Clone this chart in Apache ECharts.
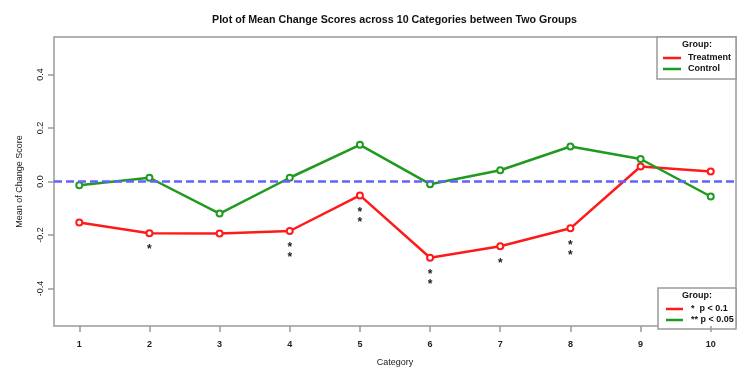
<!DOCTYPE html>
<html>
<head>
<meta charset="utf-8">
<script src="https://cdn.jsdelivr.net/npm/echarts@6/dist/echarts.min.js"></script>
<style>
  html, body { margin: 0; padding: 0; background: #fff; }
  #chart { width: 745px; height: 372px; }
</style>
</head>
<body>
<div id="chart"></div>
<script>
// Category numbers along the x axis
const categories = [1, 2, 3, 4, 5, 6, 7, 8, 9, 10];
// Mean change score per category, by group
const treatment = [-0.153, -0.193, -0.194, -0.185, -0.052, -0.285, -0.242, -0.175, 0.056, 0.037];
const control = [-0.014, 0.014, -0.120, 0.014, 0.137, -0.010, 0.042, 0.131, 0.084, -0.056];
// Significance flags shown under the treatment points
const significance = ['', '*', '', '**', '**', '**', '*', '**', '', ''];
// Y axis ticks and the reference level
const yTicks = [-0.4, -0.2, 0, 0.2, 0.4];
const referenceLevel = 0;
// Legend texts
const groupNames = ['Treatment', 'Control'];
const sigNames = ['*  p < 0.1', '** p < 0.05'];

const RED = '#ff1a1a';
const GREEN = '#1f9a1f';
const GREY = '#9a9a9a';
const FONT = '"Liberation Sans", Arial, sans-serif';

const toPairs = vals => categories.map((c, i) => [c, vals[i]]);

const chart = echarts.init(document.getElementById('chart'), null, { renderer: 'canvas' });

chart.setOption({
  backgroundColor: '#fff',
  animation: false,
  textStyle: { fontFamily: FONT },
  title: {
    text: 'Plot of Mean Change Scores across 10 Categories between Two Groups',
    left: 207,
    top: 10,
    textStyle: { fontFamily: FONT, fontSize: 10.7, fontWeight: 'bold', color: '#111' }
  },
  grid: {
    left: 54, right: 9, top: 37, bottom: 43,
    show: true, borderColor: GREY, borderWidth: 1.5, backgroundColor: 'transparent'
  },
  xAxis: {
    type: 'value',
    min: 0.64, max: 10.36,
    name: 'Category',
    nameLocation: 'middle',
    nameGap: 32,
    nameTextStyle: { fontFamily: FONT, fontSize: 9, color: '#222' },
    axisLine: { show: false, onZero: false },
    splitLine: { show: false },
    axisTick: { show: true, length: 6, lineStyle: { color: GREY, width: 1.5 }, customValues: categories },
    axisLabel: {
      customValues: categories, margin: 14,
      fontFamily: FONT, fontSize: 9, fontWeight: 'bold', color: '#222'
    }
  },
  yAxis: {
    type: 'value',
    min: -0.54, max: 0.54,
    name: 'Mean of Change Score',
    nameLocation: 'middle',
    nameGap: 30,
    nameRotate: 90,
    nameTextStyle: { fontFamily: FONT, fontSize: 9, color: '#222' },
    axisLine: { show: false, onZero: false },
    splitLine: { show: false },
    axisTick: { show: true, length: 6, lineStyle: { color: GREY, width: 1.5 }, customValues: yTicks },
    axisLabel: {
      customValues: yTicks, rotate: 90, margin: 9,
      fontFamily: FONT, fontSize: 9, color: '#222',
      formatter: v => v.toFixed(1)
    }
  },
  legend: [
    {
      data: groupNames,
      orient: 'vertical',
      left: 663, top: 53, padding: 0,
      icon: 'rect', itemWidth: 18, itemHeight: 2.5, itemGap: 1,
      itemStyle: { borderWidth: 0 },
      textStyle: { fontFamily: FONT, fontSize: 9, fontWeight: 'bold', color: '#111', lineHeight: 10, padding: [0, 0, 0, 2] }
    },
    {
      data: sigNames,
      orient: 'vertical',
      left: 666, top: 304, padding: 0,
      icon: 'rect', itemWidth: 17, itemHeight: 2.5, itemGap: 1,
      itemStyle: { borderWidth: 0 },
      textStyle: { fontFamily: FONT, fontSize: 9, fontWeight: 'bold', color: '#111', lineHeight: 10, padding: [0, 0, 0, 3] }
    }
  ],
  graphic: [
    { type: 'rect', shape: { x: 657, y: 37, width: 79, height: 42 }, style: { fill: '#fff', stroke: GREY, lineWidth: 1.5 }, z: 0 },
    { type: 'text', x: 697, y: 45, style: { text: 'Group:', fontFamily: FONT, fontSize: 9, fontWeight: 'bold', fill: '#111', align: 'center', verticalAlign: 'middle' }, z: 10 },
    { type: 'rect', shape: { x: 658, y: 288, width: 78, height: 41 }, style: { fill: '#fff', stroke: GREY, lineWidth: 1.5 }, z: 0 },
    { type: 'text', x: 697, y: 296, style: { text: 'Group:', fontFamily: FONT, fontSize: 9, fontWeight: 'bold', fill: '#111', align: 'center', verticalAlign: 'middle' }, z: 10 }
  ],
  series: [
    {
      name: 'Treatment',
      type: 'line',
      data: toPairs(treatment),
      color: RED,
      lineStyle: { width: 2.5, color: RED },
      symbol: 'emptyCircle', symbolSize: 6,
      itemStyle: { color: RED, borderColor: RED, borderWidth: 2 },
      label: {
        show: true,
        position: 'bottom',
        distance: 8,
        formatter: p => significance[p.dataIndex].split('').join('\n'),
        fontFamily: FONT, fontSize: 12, fontWeight: 'bold', color: '#222', lineHeight: 10
      }
    },
    {
      name: 'Control',
      type: 'line',
      data: toPairs(control),
      color: GREEN,
      lineStyle: { width: 2.5, color: GREEN },
      symbol: 'emptyCircle', symbolSize: 6,
      itemStyle: { color: GREEN, borderColor: GREEN, borderWidth: 2 },
      markLine: {
        silent: true,
        symbol: 'none',
        label: { show: false },
        lineStyle: { color: '#6262ff', width: 2.5, type: [8, 4] },
        data: [{ yAxis: referenceLevel }]
      }
    },
    { name: sigNames[0], type: 'line', data: [], color: RED },
    { name: sigNames[1], type: 'line', data: [], color: GREEN }
  ]
});
</script>
</body>
</html>
